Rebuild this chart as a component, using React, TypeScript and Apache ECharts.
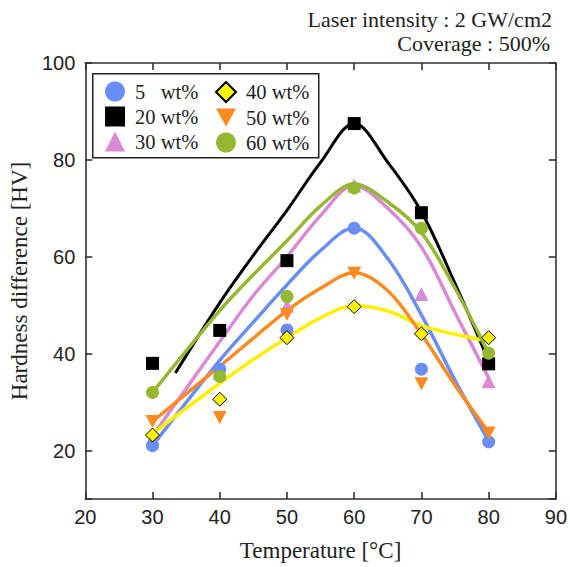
import React, { useEffect, useRef } from "react";
import * as echarts from "echarts";

// Measured temperatures (°C)
const temps = [30, 40, 50, 60, 70, 80];

// Legend / series names
const names = ["5\u00a0\u00a0\u00a0wt%", "20 wt%", "30 wt%", "40 wt%", "50 wt%", "60 wt%"];

// Measured hardness differences [HV]
const hv5 = [21.0, 36.8, 44.9, 65.9, 36.8, 21.8];
const hv20 = [38.0, 44.8, 59.2, 87.5, 69.1, 37.9];
const hv30 = [22.6, 36.0, 49.9, 74.7, 52.3, 34.3];
const hv40 = [23.2, 30.6, 43.3, 49.7, 44.1, 43.3];
const hv50 = [26.0, 26.8, 48.1, 56.6, 33.8, 23.6];
const hv60 = [32.0, 35.3, 51.8, 74.2, 65.9, 40.1];

// Fitted trend curves: [temperature, HV]
const fit5 = [[30, 21], [40, 38.6], [45, 46.5], [50, 54.2], [55, 61.3], [60, 66], [65, 59.6], [70, 48], [75, 34.5], [80, 22]];
const fit20 = [[33.4, 36], [40, 50.5], [45, 60.3], [50, 69.6], [55, 79.5], [60, 87.5], [65, 79.5], [70, 69.3], [75, 54.5], [80, 38.5]];
const fit30 = [[30, 23], [40, 42.5], [45, 52], [50, 60], [55, 68.5], [60, 74.7], [65, 70], [70, 62], [75, 48.5], [80, 35]];
const fit40 = [[30, 23.5], [40, 33.9], [45, 38.8], [50, 43.3], [55, 47.4], [60, 49.9], [65, 48.8], [70, 45.8], [75, 44], [79.5, 42.7]];
const fit50 = [[30, 26], [40, 37.4], [45, 43.2], [50, 48.9], [55, 53.5], [60, 56.7], [65, 53], [70, 44], [75, 33.5], [80, 23.8]];
const fit60 = [[30, 32], [40, 48.9], [45, 56.3], [50, 63.3], [55, 70.5], [60, 75], [65, 71.3], [70, 65], [75, 53.5], [80, 40]];

const colors = ["#6A8EF8", "#000000", "#D98AD4", "#FFF200", "#FF8A1F", "#95B832"];
const lineColors = ["#6A8EF8", "#000000", "#D98AD4", "#FFF000", "#FF8A1F", "#95B832"];

const SERIF = '"Liberation Serif", "Times New Roman", serif';
const SANS = '"Liberation Sans", Arial, sans-serif';

export default function App() {
  const ref = useRef<HTMLDivElement>(null);

  useEffect(() => {
    if (!ref.current) return;
    const chart = echarts.init(ref.current, undefined, { renderer: "svg" });

    const values = [hv5, hv20, hv30, hv40, hv50, hv60];
    const fits = [fit5, fit20, fit30, fit40, fit50, fit60];
    const symbols = ["circle", "rect", "triangle", "diamond", "path://M0,0L20,0L10,18Z", "circle"];
    const sizes: any[] = [13, 13, 14, 14, [14, 13], 13];
    // drawing order of markers (later on top)
    const drawOrder = [2, 0, 1, 5, 4, 3];

    const axisLine = { show: true, lineStyle: { color: "#333", width: 1.6 } };
    const axisTick = { show: true, inside: true, length: 7, lineStyle: { color: "#333", width: 1.6 } };

    const lineSeries = fits.map((f, i) => ({
      type: "line",
      name: "fit" + i,
      data: f,
      smooth: 0.35,
      symbol: "none",
      showSymbol: false,
      silent: true,
      z: 2,
      lineStyle: { color: lineColors[i], width: i === 1 ? 3 : 3.5 },
    }));

    const scatterSeries = drawOrder.map((i) => ({
      type: "scatter",
      name: names[i],
      data: temps.map((t, k) => [t, values[i][k]]),
      symbol: symbols[i],
      symbolSize: sizes[i],
      z: 3,
      itemStyle: {
        color: colors[i],
        opacity: 1,
        borderColor: i === 3 ? "#000" : undefined,
        borderWidth: i === 3 ? 1 : 0,
      },
    }));

    const legendCommon = {
      orient: "vertical",
      top: 81,
      padding: 0,
      itemGap: 4,
      itemWidth: 20,
      itemHeight: 20,
      z: 6,
      textStyle: {
        fontFamily: SERIF,
        fontSize: 20.5,
        color: "#222",
        padding: [0, 0, 0, 5],
      },
    };

    chart.setOption({
      animation: false,
      backgroundColor: "#ffffff",
      grid: { left: 83, right: 12, top: 63, bottom: 64 },
      xAxis: [
        {
          type: "value",
          min: 20,
          max: 90,
          interval: 10,
          position: "bottom",
          axisLine,
          axisTick,
          splitLine: { show: false },
          axisLabel: { fontFamily: SANS, fontSize: 20, color: "#222", margin: 8 },
          name: "Temperature [°C]",
          nameLocation: "middle",
          nameGap: 40,
          nameTextStyle: { fontFamily: SERIF, fontSize: 23, color: "#222" },
        },
        {
          type: "value",
          min: 20,
          max: 90,
          interval: 10,
          position: "top",
          axisLine,
          axisTick,
          splitLine: { show: false },
          axisLabel: { show: false },
        },
      ],
      yAxis: [
        {
          type: "value",
          min: 10,
          max: 100,
          splitNumber: 5,
          position: "left",
          axisLine,
          axisTick,
          splitLine: { show: false },
          axisLabel: {
            fontFamily: SANS,
            fontSize: 20,
            color: "#222",
            margin: 10,
            formatter: (v: number) => (v % 20 === 0 ? String(v) : ""),
          },
          name: "Hardness difference [HV]",
          nameLocation: "middle",
          nameRotate: 90,
          nameGap: 49,
          nameTextStyle: { fontFamily: SERIF, fontSize: 23, color: "#222" },
        },
        {
          type: "value",
          min: 10,
          max: 100,
          splitNumber: 5,
          position: "right",
          axisLine,
          axisTick,
          splitLine: { show: false },
          axisLabel: { show: false },
        },
      ],
      legend: [
        { ...legendCommon, left: 105, data: names.slice(0, 3) },
        { ...legendCommon, left: 215, data: names.slice(3, 6) },
      ],
      graphic: [
        {
          type: "rect",
          left: 92,
          top: 73,
          z: 5,
          shape: { width: 226, height: 84 },
          style: { fill: "#ffffff", stroke: "#222", lineWidth: 1.5 },
        },
        {
          type: "text",
          right: 18,
          top: 8,
          z: 10,
          style: { text: "Laser intensity : 2 GW/cm2", font: `22px ${SERIF}`, fill: "#222" },
        },
        {
          type: "text",
          right: 20,
          top: 32,
          z: 10,
          style: { text: "Coverage : 500%", font: `22px ${SERIF}`, fill: "#222" },
        },
      ],
      series: [...lineSeries, ...scatterSeries],
    });

    return () => chart.dispose();
  }, []);

  return (
    <div
      ref={ref}
      style={{ position: "fixed", left: 0, top: 0, width: 570, height: 567, background: "#fff" }}
    />
  );
}
